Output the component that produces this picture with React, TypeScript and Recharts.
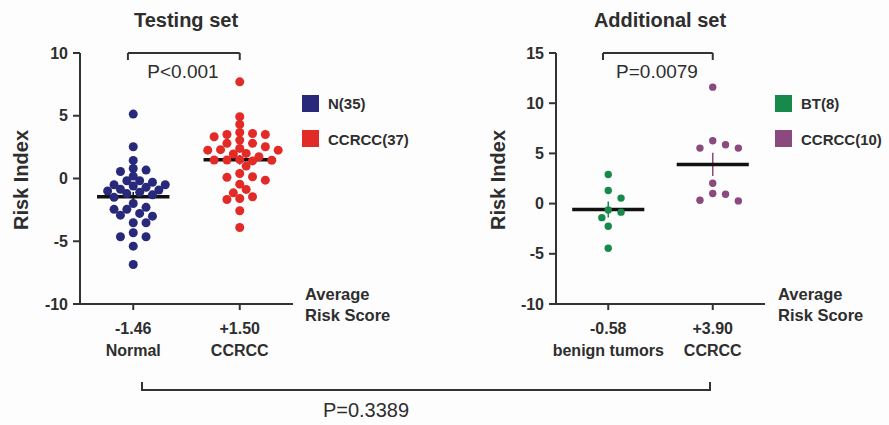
import React from 'react';
import { ScatterChart, Scatter, XAxis, YAxis, ReferenceLine } from 'recharts';

// ---------- data ----------
const testingTitle = 'Testing set';
const testingCategories = ['Normal', 'CCRCC'];
const testingAverages = [-1.46, 1.5];
const testingLegend = ['N(35)', 'CCRCC(37)'];
const testingTicks = [-10, -5, 0, 5, 10];
const testingP = 'P<0.001';

const normalValues = [
  5.13, 2.53, 1.44, 0.56, 0.19, 0.67, 0.8, -0.18, -0.18, -0.3, -0.5, -0.5, -0.6, -0.7, -0.92,
  -0.86, -1.1, -1.2, -1.3, -1.5, -1.99, -2.3, -2.46, -2.46, -2.78, -2.92, -3.0, -3.53, -3.53,
  -4.32, -4.64, -4.64, -5.39, -6.85, -1.0,
];
const ccrccTestingValues = [
  7.7, 4.92, 4.31, 3.67, 3.59, 3.51, 3.51, 3.33, 3.06, 2.8, 2.8, 2.53, 2.4, 2.3, 2.26, 2.26, 2.0,
  1.95, 1.73, 1.5, 1.47, 1.47, 1.45, 1.4, 0.99, 0.4, 0.14, 0.09, -0.13, -0.45, -0.87, -1.14,
  -1.45, -1.59, -1.67, -2.57, -3.9,
];

const additionalTitle = 'Additional set';
const additionalCategories = ['benign tumors', 'CCRCC'];
const additionalAverages = [-0.58, 3.9];
const additionalLegend = ['BT(8)', 'CCRCC(10)'];
const additionalTicks = [-10, -5, 0, 5, 10, 15];
const additionalP = 'P=0.0079';

const benignValues = [2.9, 1.3, 0.55, -0.63, -0.85, -1.4, -2.25, -4.45];
const ccrccAdditionalValues = [11.6, 5.86, 5.53, 5.53, 6.26, 2.03, 0.93, 0.27, 0.33, 1.0];

const betweenP = 'P=0.3389';
const avgLabel = ['Average', 'Risk Score'];

// ---------- style ----------
const FONT = '"Liberation Sans", Arial, Helvetica, sans-serif';
const TEXT = '#2e2e2e';
const AXIS = '#333333';
const BLUE = '#29297c';
const RED = '#e22a27';
const GREEN = '#17894a';
const PURPLE = '#8a4a7e';

// ---------- helpers ----------
function swarm(values: number[], cat: number, pxX: number, pxY: number, diam: number, half: number) {
  const idx = values.map((_, i) => i).sort((a, b) => values[b] - values[a]);
  const placed: { x: number; y: number }[] = [];
  const out = values.map((v) => ({ x: cat, y: v }));
  for (const i of idx) {
    const py = values[i] * pxY;
    let off = 0;
    for (let n = 0; n < 60; n++) {
      const cand = n === 0 ? 0 : (n % 2 === 1 ? 1 : -1) * Math.ceil(n / 2) * half;
      const ok = placed.every((p) => (p.x - cand) ** 2 + (p.y - py) ** 2 >= diam * diam);
      if (ok) {
        off = cand;
        break;
      }
    }
    placed.push({ x: off, y: py });
    out[i] = { x: cat + off / pxX, y: values[i] };
  }
  return out;
}

const mean = (a: number[]) => a.reduce((s, v) => s + v, 0) / a.length;
const sem = (a: number[]) => {
  const m = mean(a);
  const sd = Math.sqrt(a.reduce((s, v) => s + (v - m) ** 2, 0) / (a.length - 1));
  return sd / Math.sqrt(a.length);
};
const fmtAvg = (v: number) => (v > 0 ? '+' : '') + v.toFixed(2);

const dot = (r: number, color: string) => (props: any) =>
  <circle cx={props.cx} cy={props.cy} r={r} fill={color} />;

const makeXTick = (cats: string[], avgs: number[]) => (props: any) => {
  const { x, y, payload } = props;
  const i = Math.round(payload.value);
  return (
    <g>
      <text x={x} y={y + 24} textAnchor="middle" fontSize={16} fontWeight="bold" fill={TEXT} fontFamily={FONT}>
        {fmtAvg(avgs[i])}
      </text>
      <text x={x} y={y + 46} textAnchor="middle" fontSize={16} fontWeight="bold" fill={TEXT} fontFamily={FONT}>
        {cats[i]}
      </text>
    </g>
  );
};

interface PanelProps {
  left: number;
  width: number;
  margin: { top: number; right: number; bottom: number; left: number };
  plotW: number;
  plotH: number;
  yDomain: [number, number];
  yTicks: number[];
  cats: string[];
  avgs: number[];
  groups: { values: number[]; color: string; semColor: string }[];
  r: number;
  diam: number;
  meanHalf: number;
}

function Panel(p: PanelProps) {
  const pxX = p.plotW / 2;
  const pxY = p.plotH / (p.yDomain[1] - p.yDomain[0]);
  const top = p.yDomain[1];
  const leg = 7 / pxY;
  return (
    <div style={{ position: 'absolute', left: p.left, top: 0 }}>
      <ScatterChart width={p.width} height={425} margin={p.margin}>
        <XAxis
          type="number"
          dataKey="x"
          domain={[-0.5, 1.5]}
          ticks={[0, 1]}
          allowDataOverflow
          tickSize={6}
          tickMargin={0}
          height={60}
          axisLine={{ stroke: AXIS, strokeWidth: 2 }}
          tickLine={{ stroke: AXIS, strokeWidth: 2 }}
          tick={makeXTick(p.cats, p.avgs)}
        />
        <YAxis
          type="number"
          dataKey="y"
          domain={p.yDomain}
          ticks={p.yTicks}
          allowDataOverflow
          width={50}
          tickSize={7}
          tickMargin={5}
          axisLine={{ stroke: AXIS, strokeWidth: 2 }}
          tickLine={{ stroke: AXIS, strokeWidth: 2 }}
          tick={{ fontSize: 16, fontWeight: 'bold', fill: TEXT, fontFamily: FONT }}
        />
        {p.groups.map((g, i) => (
          <Scatter
            key={'s' + i}
            data={swarm(g.values, i, pxX, pxY, p.diam, 6.4)}
            fill={g.color}
            shape={dot(p.r, g.color)}
            isAnimationActive={false}
          />
        ))}
        {p.groups.map((g, i) => (
          <ReferenceLine
            key={'sem' + i}
            segment={[
              { x: i, y: p.avgs[i] - sem(g.values) },
              { x: i, y: p.avgs[i] + sem(g.values) },
            ]}
            stroke={g.semColor}
            strokeWidth={1.5}
          />
        ))}
        {p.groups.map((g, i) => (
          <ReferenceLine
            key={'m' + i}
            segment={[
              { x: i - p.meanHalf, y: p.avgs[i] },
              { x: i + p.meanHalf, y: p.avgs[i] },
            ]}
            stroke="#111111"
            strokeWidth={3.5}
          />
        ))}
        <ReferenceLine segment={[{ x: -0.05, y: top }, { x: 1, y: top }]} stroke={AXIS} strokeWidth={2} />
        <ReferenceLine segment={[{ x: -0.05, y: top }, { x: -0.05, y: top - leg }]} stroke={AXIS} strokeWidth={2} />
        <ReferenceLine segment={[{ x: 1, y: top }, { x: 1, y: top - leg }]} stroke={AXIS} strokeWidth={2} />
      </ScatterChart>
    </div>
  );
}

export default function App() {
  const t = { fontFamily: FONT, fill: TEXT };
  return (
    <div style={{ position: 'absolute', left: 0, top: 0, width: 889, height: 425, background: '#fdfdfd', overflow: 'hidden' }}>
      <Panel
        left={0}
        width={440}
        margin={{ top: 53, right: 147, bottom: 61, left: 30 }}
        plotW={213}
        plotH={251}
        yDomain={[-10, 10]}
        yTicks={testingTicks}
        cats={testingCategories}
        avgs={testingAverages}
        groups={[
          { values: normalValues, color: BLUE, semColor: '#111111' },
          { values: ccrccTestingValues, color: RED, semColor: '#111111' },
        ]}
        r={4.5}
        diam={7.6}
        meanHalf={0.34}
      />
      <Panel
        left={440}
        width={449}
        margin={{ top: 53, right: 124, bottom: 61, left: 66 }}
        plotW={209}
        plotH={251}
        yDomain={[-10, 15]}
        yTicks={additionalTicks}
        cats={additionalCategories}
        avgs={additionalAverages}
        groups={[
          { values: benignValues, color: GREEN, semColor: GREEN },
          { values: ccrccAdditionalValues, color: PURPLE, semColor: PURPLE },
        ]}
        r={3.7}
        diam={10}
        meanHalf={0.345}
      />
      <svg width={889} height={425} style={{ position: 'absolute', left: 0, top: 0, pointerEvents: 'none' }}>
        <text x={186} y={27} textAnchor="middle" fontSize={20} fontWeight="bold" {...t}>{testingTitle}</text>
        <text x={660} y={27} textAnchor="middle" fontSize={20} fontWeight="bold" {...t}>{additionalTitle}</text>
        <text x={28} y={180} textAnchor="middle" fontSize={20} fontWeight="bold" transform="rotate(-90 28 180)" {...t}>Risk Index</text>
        <text x={505} y={180} textAnchor="middle" fontSize={20} fontWeight="bold" transform="rotate(-90 505 180)" {...t}>Risk Index</text>
        <text x={183} y={78} textAnchor="middle" fontSize={19} {...t}>{testingP}</text>
        <text x={657} y={78} textAnchor="middle" fontSize={19} {...t}>{additionalP}</text>

        <rect x={302} y={95} width={17} height={17} fill={BLUE} />
        <rect x={302} y={130} width={17} height={17} fill={RED} />
        <text x={328} y={109} fontSize={15} fontWeight="bold" {...t}>{testingLegend[0]}</text>
        <text x={328} y={145} fontSize={15} fontWeight="bold" {...t}>{testingLegend[1]}</text>

        <rect x={775} y={95} width={17} height={17} fill={GREEN} />
        <rect x={775} y={130} width={17} height={17} fill={PURPLE} />
        <text x={801} y={109} fontSize={15} fontWeight="bold" {...t}>{additionalLegend[0]}</text>
        <text x={801} y={145} fontSize={15} fontWeight="bold" {...t}>{additionalLegend[1]}</text>

        <text x={305} y={300} fontSize={16.5} fontWeight="bold" {...t}>{avgLabel[0]}</text>
        <text x={305} y={321} fontSize={16.5} fontWeight="bold" {...t}>{avgLabel[1]}</text>
        <text x={778} y={300} fontSize={16.5} fontWeight="bold" {...t}>{avgLabel[0]}</text>
        <text x={778} y={321} fontSize={16.5} fontWeight="bold" {...t}>{avgLabel[1]}</text>

        <path d="M142 382 V390 H710 V382" fill="none" stroke={AXIS} strokeWidth={2} />
        <text x={366} y={417} textAnchor="middle" fontSize={20} {...t}>{betweenP}</text>
      </svg>
    </div>
  );
}
